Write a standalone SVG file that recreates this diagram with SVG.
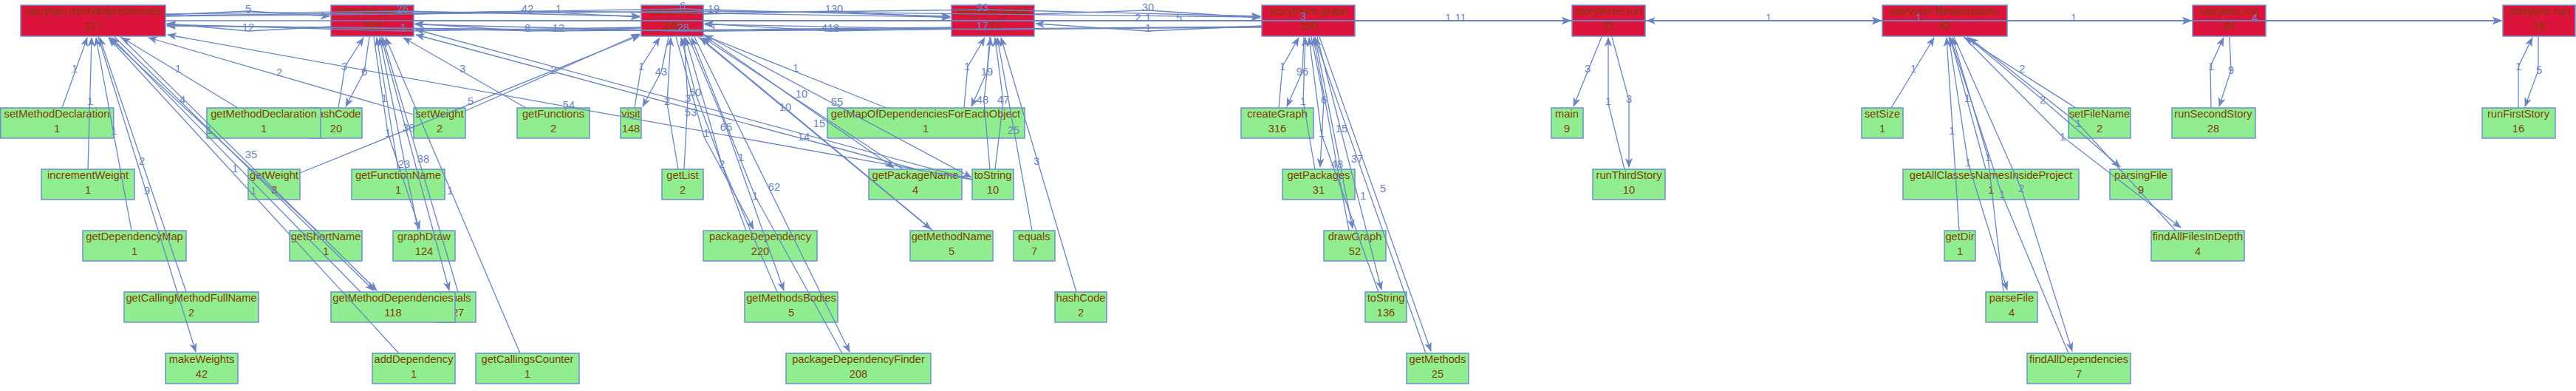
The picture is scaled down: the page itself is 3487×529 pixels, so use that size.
<svg xmlns="http://www.w3.org/2000/svg" width="3487" height="529" viewBox="0 0 3487 529">
<style>
.m{fill:#dc143c;stroke:#6f8fd0;stroke-width:1.5}
.g{fill:#90ee90;stroke:#6f8fd0;stroke-width:1.5}
.t{font-family:"Liberation Sans",Arial,sans-serif;font-size:14.7px;fill:#7f3f00;text-anchor:middle}
.e{fill:none;stroke:#6a85c0;stroke-width:1.3}
.l{font-family:"Liberation Sans",Arial,sans-serif;font-size:14.7px;fill:#6a85c0;text-anchor:middle}
</style>
<defs>
<marker id="a" markerUnits="userSpaceOnUse" markerWidth="13" markerHeight="10" refX="12" refY="5" orient="auto" viewBox="0 0 13 10"><path d="M0,0 L13,5 L0,10 L3.5,5 z" fill="#6a85c0"/></marker>
</defs>
<rect width="3487" height="529" fill="#ffffff"/>
<g id="nodes">
<g id="n1"><rect class="m" x="28" y="7" width="196" height="42"/><text class="t" x="126" y="20">storytwo.methdependencies</text><text class="t" x="126" y="40">117</text></g>
<g id="n2"><rect class="m" x="448" y="7" width="112" height="42"/><text class="t" x="504" y="20">storytwo.graph</text><text class="t" x="504" y="40">204</text></g>
<g id="n3"><rect class="m" x="868" y="7" width="84" height="42"/><text class="t" x="910" y="20">storythree</text><text class="t" x="910" y="40">242</text></g>
<g id="n4"><rect class="m" x="1288" y="7" width="112" height="42"/><text class="t" x="1344" y="20">storyone.graph</text><text class="t" x="1346" y="40">17</text></g>
<g id="n5"><rect class="m" x="1708" y="7" width="126" height="42"/><text class="t" x="1771" y="20">storythree.graph</text><text class="t" x="1771" y="40">150</text></g>
<g id="n6"><rect class="m" x="2128" y="7" width="99" height="42"/><text class="t" x="2177" y="20">storythree.run</text><text class="t" x="2177" y="40">21</text></g>
<g id="n7"><rect class="m" x="2548" y="7" width="169" height="42"/><text class="t" x="2632" y="20">storyone.fileoperations</text><text class="t" x="2632" y="40">42</text></g>
<g id="n8"><rect class="m" x="2968" y="7" width="99" height="42"/><text class="t" x="3017" y="20">storytwo.run</text><text class="t" x="3017" y="40">24</text></g>
<g id="n9"><rect class="m" x="3388" y="7" width="98" height="42"/><text class="t" x="3437" y="20">storyone.run</text><text class="t" x="3437" y="40">18</text></g>

<g id="setMethodDeclaration"><rect class="g" x="0.75" y="146" width="153" height="41"/><text class="t" x="77" y="159">setMethodDeclaration</text><text class="t" x="77" y="179">1</text></g>
<g id="hashCode2"><rect class="g" x="420" y="146" width="70" height="41"/><text class="t" x="455" y="159">hashCode</text><text class="t" x="455" y="179">20</text></g>
<g id="getMethodDeclaration"><rect class="g" x="280" y="146" width="154" height="41"/><text class="t" x="357" y="159">getMethodDeclaration</text><text class="t" x="357" y="179">1</text></g>
<g id="setWeight"><rect class="g" x="560" y="146" width="70" height="41"/><text class="t" x="595" y="159">setWeight</text><text class="t" x="595" y="179">2</text></g>
<g id="getFunctions"><rect class="g" x="700" y="146" width="98" height="41"/><text class="t" x="749" y="159">getFunctions</text><text class="t" x="749" y="179">2</text></g>
<g id="visit"><rect class="g" x="840" y="146" width="28" height="41"/><text class="t" x="854" y="159">visit</text><text class="t" x="854" y="179">148</text></g>
<g id="getMapOfDependenciesForEachObject"><rect class="g" x="1120" y="146" width="267" height="41"/><text class="t" x="1253" y="159">getMapOfDependenciesForEachObject</text><text class="t" x="1253" y="179">1</text></g>
<g id="createGraph"><rect class="g" x="1680" y="146" width="98" height="41"/><text class="t" x="1729" y="159">createGraph</text><text class="t" x="1729" y="179">316</text></g>
<g id="main"><rect class="g" x="2100" y="146" width="43" height="41"/><text class="t" x="2121" y="159">main</text><text class="t" x="2121" y="179">9</text></g>
<g id="setSize"><rect class="g" x="2520" y="146" width="56" height="41"/><text class="t" x="2548" y="159">setSize</text><text class="t" x="2548" y="179">1</text></g>
<g id="setFileName"><rect class="g" x="2800" y="146" width="84" height="41"/><text class="t" x="2842" y="159">setFileName</text><text class="t" x="2842" y="179">2</text></g>
<g id="runSecondStory"><rect class="g" x="2940" y="146" width="113" height="41"/><text class="t" x="2996" y="159">runSecondStory</text><text class="t" x="2996" y="179">28</text></g>
<g id="runFirstStory"><rect class="g" x="3360" y="146" width="99" height="41"/><text class="t" x="3409" y="159">runFirstStory</text><text class="t" x="3409" y="179">16</text></g>

<g id="incrementWeight"><rect class="g" x="56" y="229" width="126" height="41"/><text class="t" x="119" y="242">incrementWeight</text><text class="t" x="119" y="262">1</text></g>
<g id="getWeight"><rect class="g" x="336" y="229" width="70" height="41"/><text class="t" x="371" y="242">getWeight</text><text class="t" x="371" y="262">3</text></g>
<g id="getFunctionName"><rect class="g" x="476" y="229" width="126" height="41"/><text class="t" x="539" y="242">getFunctionName</text><text class="t" x="539" y="262">1</text></g>
<g id="getList"><rect class="g" x="896" y="229" width="56" height="41"/><text class="t" x="924" y="242">getList</text><text class="t" x="924" y="262">2</text></g>
<g id="getPackageName"><rect class="g" x="1176" y="229" width="126" height="41"/><text class="t" x="1239" y="242">getPackageName</text><text class="t" x="1239" y="262">4</text></g>
<g id="toString10"><rect class="g" x="1316" y="229" width="56" height="41"/><text class="t" x="1344" y="242">toString</text><text class="t" x="1344" y="262">10</text></g>
<g id="getPackages"><rect class="g" x="1736" y="229" width="98" height="41"/><text class="t" x="1785" y="242">getPackages</text><text class="t" x="1785" y="262">31</text></g>
<g id="runThirdStory"><rect class="g" x="2156" y="229" width="98" height="41"/><text class="t" x="2205" y="242">runThirdStory</text><text class="t" x="2205" y="262">10</text></g>
<g id="getAllClassesNamesInsideProject"><rect class="g" x="2576" y="229" width="238" height="41"/><text class="t" x="2695" y="242">getAllClassesNamesInsideProject</text><text class="t" x="2695" y="262">1</text></g>
<g id="parsingFile"><rect class="g" x="2856" y="229" width="84" height="41"/><text class="t" x="2898" y="242">parsingFile</text><text class="t" x="2898" y="262">9</text></g>

<g id="getDependencyMap"><rect class="g" x="112" y="312" width="140" height="41"/><text class="t" x="182" y="325">getDependencyMap</text><text class="t" x="182" y="345">1</text></g>
<g id="getShortName"><rect class="g" x="392" y="312" width="98" height="41"/><text class="t" x="441" y="325">getShortName</text><text class="t" x="441" y="345">1</text></g>
<g id="graphDraw"><rect class="g" x="532" y="312" width="84" height="41"/><text class="t" x="574" y="325">graphDraw</text><text class="t" x="574" y="345">124</text></g>
<g id="packageDependency"><rect class="g" x="952" y="312" width="154" height="41"/><text class="t" x="1029" y="325">packageDependency</text><text class="t" x="1029" y="345">220</text></g>
<g id="getMethodName"><rect class="g" x="1232" y="312" width="112" height="41"/><text class="t" x="1288" y="325">getMethodName</text><text class="t" x="1288" y="345">5</text></g>
<g id="equals7"><rect class="g" x="1372" y="312" width="56" height="41"/><text class="t" x="1400" y="325">equals</text><text class="t" x="1400" y="345">7</text></g>
<g id="drawGraph"><rect class="g" x="1792" y="312" width="84" height="41"/><text class="t" x="1834" y="325">drawGraph</text><text class="t" x="1834" y="345">52</text></g>
<g id="getDir"><rect class="g" x="2632" y="312" width="42" height="41"/><text class="t" x="2653" y="325">getDir</text><text class="t" x="2653" y="345">1</text></g>
<g id="findAllFilesInDepth"><rect class="g" x="2912" y="312" width="126" height="41"/><text class="t" x="2975" y="325">findAllFilesInDepth</text><text class="t" x="2975" y="345">4</text></g>

<g id="getCallingMethodFullName"><rect class="g" x="168" y="395" width="182" height="41"/><text class="t" x="259" y="408">getCallingMethodFullName</text><text class="t" x="259" y="428">2</text></g>
<g id="equals127"><rect class="g" x="588" y="395" width="56" height="41"/><text class="t" x="616" y="408">equals</text><text class="t" x="616" y="428">127</text></g>
<g id="getMethodDependencies"><rect class="g" x="448" y="395" width="168" height="41"/><text class="t" x="532" y="408">getMethodDependencies</text><text class="t" x="532" y="428">118</text></g>
<g id="getMethodsBodies"><rect class="g" x="1008" y="395" width="126" height="41"/><text class="t" x="1071" y="408">getMethodsBodies</text><text class="t" x="1071" y="428">5</text></g>
<g id="hashCode"><rect class="g" x="1428" y="395" width="70" height="41"/><text class="t" x="1463" y="408">hashCode</text><text class="t" x="1463" y="428">2</text></g>
<g id="toString136"><rect class="g" x="1848" y="395" width="56" height="41"/><text class="t" x="1876" y="408">toString</text><text class="t" x="1876" y="428">136</text></g>
<g id="parseFile"><rect class="g" x="2688" y="395" width="70" height="41"/><text class="t" x="2723" y="408">parseFile</text><text class="t" x="2723" y="428">4</text></g>

<g id="makeWeights"><rect class="g" x="224" y="478" width="98" height="41"/><text class="t" x="273" y="491">makeWeights</text><text class="t" x="273" y="511">42</text></g>
<g id="addDependency"><rect class="g" x="504" y="478" width="112" height="41"/><text class="t" x="560" y="491">addDependency</text><text class="t" x="560" y="511">1</text></g>
<g id="getCallingsCounter"><rect class="g" x="644" y="478" width="140" height="41"/><text class="t" x="714" y="491">getCallingsCounter</text><text class="t" x="714" y="511">1</text></g>
<g id="packageDependencyFinder"><rect class="g" x="1064" y="478" width="196" height="41"/><text class="t" x="1162" y="491">packageDependencyFinder</text><text class="t" x="1162" y="511">208</text></g>
<g id="getMethods"><rect class="g" x="1904" y="478" width="84" height="41"/><text class="t" x="1946" y="491">getMethods</text><text class="t" x="1946" y="511">25</text></g>
<g id="findAllDependencies"><rect class="g" x="2744" y="478" width="140" height="41"/><text class="t" x="2814" y="491">findAllDependencies</text><text class="t" x="2814" y="511">7</text></g>
</g>

<g id="connectors">
<g id="main-row">
<path class="e" marker-end="url(#a)" d="M224,20 L336,15 L446,22"/>
<path class="e" marker-end="url(#a)" d="M448,36 L336,42 L226,32"/>
<path class="e" marker-end="url(#a)" d="M224,19 L546,15 L866,22"/>
<path class="e" marker-end="url(#a)" d="M868,37 L546,42 L226,33"/>
<path class="e" marker-end="url(#a)" d="M560,19 L714,15 L866,23"/>
<path class="e" marker-end="url(#a)" d="M868,38 L714,42 L562,32"/>
<path class="e" marker-end="url(#a)" d="M224,21 L756,15 L1286,23"/>
<path class="e" marker-end="url(#a)" d="M1288,37 L756,42 L226,34"/>
<path class="e" marker-end="url(#a)" d="M560,18 L924,12 L1286,22"/>
<path class="e" marker-end="url(#a)" d="M1288,38 L925,42 L562,33"/>
<path class="e" marker-end="url(#a)" d="M224,22 L966,15 L1706,23"/>
<path class="e" marker-end="url(#a)" d="M1708,36 L966,42 L226,35"/>
<path class="e" marker-end="url(#a)" d="M952,19 L1129,15 L1286,24"/>
<path class="e" marker-end="url(#a)" d="M1288,39 L1124,42 L954,32"/>
<path class="e" marker-end="url(#a)" d="M952,18 L1330,13 L1706,22"/>
<path class="e" marker-end="url(#a)" d="M1708,37 L1330,40 L954,33"/>
<path class="e" marker-end="url(#a)" d="M1400,19 L1554,14 L1706,24"/>
<path class="e" marker-end="url(#a)" d="M1708,35 L1554,42 L1402,32"/>
<path class="e" marker-end="url(#a)" d="M224,28 L2966,28"/>
<path class="e" marker-end="url(#a)" d="M560,28 L2546,28"/>
<path class="e" marker-end="url(#a)" d="M952,28 L2126,28"/>
<path class="e" marker-end="url(#a)" d="M1400,28 L2126,28"/>
<path class="e" marker-end="url(#a)" d="M1400,28 L2546,28"/>
<path class="e" marker-end="url(#a)" d="M1834,28 L2126,28"/>
<path class="e" marker-end="url(#a)" d="M2227,28 L2546,28"/>
<path class="e" marker-end="url(#a)" d="M2548,28 L2229,28"/>
<path class="e" marker-end="url(#a)" d="M2227,28 L2966,28"/>
<path class="e" marker-end="url(#a)" d="M2227,28 L3386,28"/>
<path class="e" marker-end="url(#a)" d="M2717,28 L3386,28"/>
<path class="e" marker-end="url(#a)" d="M2717,28 L2966,28"/>
<path class="e" marker-end="url(#a)" d="M3067,28 L3386,28"/>
<text class="l" x="336" y="17">5</text><text class="l" x="336" y="42">12</text>
<text class="l" x="545" y="17">26</text><text class="l" x="546" y="42">1</text>
<text class="l" x="714" y="17">42</text><text class="l" x="714" y="43">8</text>
<text class="l" x="756" y="17">1</text><text class="l" x="756" y="43">12</text>
<text class="l" x="924" y="13">6</text><text class="l" x="925" y="42">28</text>
<text class="l" x="966" y="17">19</text><text class="l" x="966" y="42">1</text>
<text class="l" x="1129" y="17">130</text><text class="l" x="1124" y="43">418</text>
<text class="l" x="1330" y="15">93</text><text class="l" x="1330" y="40">17</text>
<text class="l" x="1554" y="15">30</text><text class="l" x="1540" y="29">2</text><text class="l" x="1554" y="29">1</text><text class="l" x="1596" y="29">5</text><text class="l" x="1554" y="43">1</text>
<text class="l" x="1764" y="27">3</text><text class="l" x="1960" y="29">1</text><text class="l" x="1977" y="29">11</text>
<text class="l" x="2394" y="29">1</text><text class="l" x="2597" y="29">1</text><text class="l" x="2807" y="29">1</text><text class="l" x="3052" y="29">4</text>
</g>
<g id="group1">
<path class="e" marker-end="url(#a)" d="M84,146 L118,51"/>
<path class="e" marker-end="url(#a)" d="M119,229 L124,51"/>
<path class="e" marker-end="url(#a)" d="M178,312 L130,51"/>
<path class="e" marker-end="url(#a)" d="M252,395 L135,51"/>
<path class="e" marker-end="url(#a)" d="M133,50 L265,476"/>
<path class="e" marker-end="url(#a)" d="M322,146 L165,51"/>
<path class="e" marker-end="url(#a)" d="M560,155 L201,51"/>
<path class="e" marker-end="url(#a)" d="M1316,243 L227,47"/>
<path class="e" marker-end="url(#a)" d="M429,312 L148,51"/>
<path class="e" marker-end="url(#a)" d="M540,478 L147,51"/>
<path class="e" marker-end="url(#a)" d="M163,50 L510,393"/>
<path class="e" marker-end="url(#a)" d="M155,50 L506,393"/>
<path class="e" marker-end="url(#a)" d="M488,395 L151,51"/>
<path class="e" marker-end="url(#a)" d="M406,234 L866,48"/>
<path class="e" marker-end="url(#a)" d="M630,150 L866,46"/>
<text class="l" x="101" y="98">1</text><text class="l" x="122" y="142">1</text><text class="l" x="154" y="182">1</text>
<text class="l" x="192" y="223">2</text><text class="l" x="199" y="263">9</text><text class="l" x="241" y="98">1</text>
<text class="l" x="378" y="103">2</text><text class="l" x="770" y="147">54</text><text class="l" x="283" y="181">1</text>
<text class="l" x="343" y="263">1</text><text class="l" x="247" y="140">4</text><text class="l" x="340" y="214">35</text>
<text class="l" x="318" y="233">1</text><text class="l" x="637" y="142">5</text><text class="l" x="749" y="100">2</text>
</g>
<g id="group2">
<path class="e" marker-end="url(#a)" d="M458,146 L467,90 L492,51"/>
<path class="e" marker-end="url(#a)" d="M500,50 L493,97 L468,144"/>
<path class="e" marker-end="url(#a)" d="M712,146 L546,51"/>
<path class="e" marker-end="url(#a)" d="M539,229 L510,51"/>
<path class="e" marker-end="url(#a)" d="M506,50 L525,180 L568,310"/>
<path class="e" marker-end="url(#a)" d="M566,312 L514,51"/>
<path class="e" marker-end="url(#a)" d="M516,50 L608,393"/>
<path class="e" marker-end="url(#a)" d="M620,395 L518,51"/>
<path class="e" marker-end="url(#a)" d="M704,478 L522,51"/>
<path class="e" marker-end="url(#a)" d="M1316,243 L563,40"/>
<path class="e" marker-end="url(#a)" d="M1240,229 L563,47"/>
<text class="l" x="466" y="95">3</text><text class="l" x="493" y="102">6</text><text class="l" x="626" y="98">3</text>
<text class="l" x="520" y="138">1</text><text class="l" x="525" y="185">1</text><text class="l" x="547" y="227">23</text>
<text class="l" x="553" y="178">38</text><text class="l" x="573" y="220">38</text><text class="l" x="609" y="263">1</text>
</g>
<g id="group3">
<path class="e" marker-end="url(#a)" d="M859,146 L868,90 L893,51"/>
<path class="e" marker-end="url(#a)" d="M905,50 L895,97 L870,144"/>
<path class="e" marker-end="url(#a)" d="M918,229 L903,140 L908,51"/>
<path class="e" marker-end="url(#a)" d="M926,229 L931,135 L926,51"/>
<path class="e" marker-end="url(#a)" d="M915,50 L953,185 L1020,310"/>
<path class="e" marker-end="url(#a)" d="M1010,312 L941,125 L922,51"/>
<path class="e" marker-end="url(#a)" d="M932,50 L983,172 L1061,393"/>
<path class="e" marker-end="url(#a)" d="M1052,395 L977,222 L928,51"/>
<path class="e" marker-end="url(#a)" d="M940,50 L1150,476"/>
<path class="e" marker-end="url(#a)" d="M1140,478 L1022,265 L936,51"/>
<path class="e" marker-end="url(#a)" d="M1200,146 L954,48"/>
<path class="e" marker-end="url(#a)" d="M953,48 L1210,227"/>
<path class="e" marker-end="url(#a)" d="M1222,229 L952,51"/>
<path class="e" marker-end="url(#a)" d="M952,46 L1315,240"/>
<path class="e" marker-end="url(#a)" d="M1263,312 L948,51"/>
<path class="e" marker-end="url(#a)" d="M945,50 L1260,310"/>
<text class="l" x="868" y="95">1</text><text class="l" x="895" y="102">43</text><text class="l" x="903" y="142">2</text>
<text class="l" x="931" y="138">3</text><text class="l" x="956" y="185">1</text><text class="l" x="941" y="130">50</text>
<text class="l" x="935" y="157">53</text><text class="l" x="983" y="177">65</text><text class="l" x="977" y="227">2</text>
<text class="l" x="1003" y="218">1</text><text class="l" x="1048" y="258">62</text><text class="l" x="1022" y="270">1</text>
<text class="l" x="1077" y="97">1</text><text class="l" x="1085" y="132">10</text><text class="l" x="1063" y="150">10</text>
<text class="l" x="1133" y="143">55</text><text class="l" x="1109" y="172">15</text><text class="l" x="1088" y="190">14</text>
</g>
<g id="group4">
<path class="e" marker-end="url(#a)" d="M1305,146 L1310,90 L1333,51"/>
<path class="e" marker-end="url(#a)" d="M1340,50 L1336,97 L1315,144"/>
<path class="e" marker-end="url(#a)" d="M1340,229 L1332,137 L1341,51"/>
<path class="e" marker-end="url(#a)" d="M1347,229 L1358,137 L1347,51"/>
<path class="e" marker-end="url(#a)" d="M1397,312 L1350,51"/>
<path class="e" marker-end="url(#a)" d="M1457,395 L1355,51"/>
<text class="l" x="1309" y="95">1</text><text class="l" x="1336" y="102">19</text><text class="l" x="1330" y="140">48</text>
<text class="l" x="1358" y="140">47</text><text class="l" x="1372" y="181">25</text><text class="l" x="1403" y="223">3</text>
</g>
<g id="group5">
<path class="e" marker-end="url(#a)" d="M1731,146 L1736,90 L1758,51"/>
<path class="e" marker-end="url(#a)" d="M1765,50 L1763,97 L1742,144"/>
<path class="e" marker-end="url(#a)" d="M1780,229 L1764,137 L1767,51"/>
<path class="e" marker-end="url(#a)" d="M1775,50 L1792,135 L1787,226"/>
<path class="e" marker-end="url(#a)" d="M1826,312 L1778,51"/>
<path class="e" marker-end="url(#a)" d="M1780,50 L1831,309"/>
<path class="e" marker-end="url(#a)" d="M1866,395 L1789,182 L1772,51"/>
<path class="e" marker-end="url(#a)" d="M1783,50 L1870,392"/>
<path class="e" marker-end="url(#a)" d="M1930,478 L1780,51"/>
<path class="e" marker-end="url(#a)" d="M1786,50 L1937,475"/>
<text class="l" x="1736" y="95">1</text><text class="l" x="1763" y="102">96</text><text class="l" x="1764" y="142">1</text>
<text class="l" x="1792" y="140">6</text><text class="l" x="1810" y="227">48</text><text class="l" x="1816" y="179">15</text>
<text class="l" x="1789" y="185">1</text><text class="l" x="1837" y="220">37</text><text class="l" x="1845" y="270">1</text>
<text class="l" x="1872" y="260">5</text>
</g>
<g id="group6">
<path class="e" marker-end="url(#a)" d="M2168,50 L2130,144"/>
<path class="e" marker-end="url(#a)" d="M2199,229 L2177,140 L2177,51"/>
<path class="e" marker-end="url(#a)" d="M2182,50 L2205,135 L2205,226"/>
<text class="l" x="2149" y="98">3</text><text class="l" x="2177" y="142">1</text><text class="l" x="2205" y="139">3</text>
</g>
<g id="group7">
<path class="e" marker-end="url(#a)" d="M2560,146 L2618,51"/>
<path class="e" marker-end="url(#a)" d="M2688,229 L2640,51"/>
<path class="e" marker-end="url(#a)" d="M2652,312 L2635,51"/>
<path class="e" marker-end="url(#a)" d="M2638,50 L2664,220 L2717,392"/>
<path class="e" marker-end="url(#a)" d="M2712,395 L2691,213 L2643,51"/>
<path class="e" marker-end="url(#a)" d="M2645,50 L2736,255 L2805,475"/>
<path class="e" marker-end="url(#a)" d="M2800,478 L2710,263 L2640,51"/>
<path class="e" marker-end="url(#a)" d="M2810,146 L2660,51"/>
<path class="e" marker-end="url(#a)" d="M2663,50 L2765,135 L2870,226"/>
<path class="e" marker-end="url(#a)" d="M2658,50 L2792,185 L2952,308"/>
<path class="e" marker-end="url(#a)" d="M2945,312 L2813,167 L2666,51"/>
<text class="l" x="2590" y="98">1</text><text class="l" x="2663" y="138">1</text><text class="l" x="2642" y="182">1</text>
<text class="l" x="2664" y="225">1</text><text class="l" x="2691" y="218">1</text><text class="l" x="2736" y="260">2</text>
<text class="l" x="2710" y="268">1</text><text class="l" x="2737" y="98">2</text><text class="l" x="2765" y="140">2</text>
<text class="l" x="2792" y="190">1</text><text class="l" x="2813" y="172">1</text>
</g>
<g id="group8">
<path class="e" marker-end="url(#a)" d="M2993,146 L2992,90 L3010,51"/>
<path class="e" marker-end="url(#a)" d="M3018,50 L3020,95 L3004,144"/>
<text class="l" x="2993" y="95">1</text><text class="l" x="3020" y="100">9</text>
</g>
<g id="group9">
<path class="e" marker-end="url(#a)" d="M3409,146 L3409,90 L3428,51"/>
<path class="e" marker-end="url(#a)" d="M3436,50 L3436,95 L3418,144"/>
<text class="l" x="3409" y="95">1</text><text class="l" x="3437" y="100">5</text>
</g>
</g>
</svg>
